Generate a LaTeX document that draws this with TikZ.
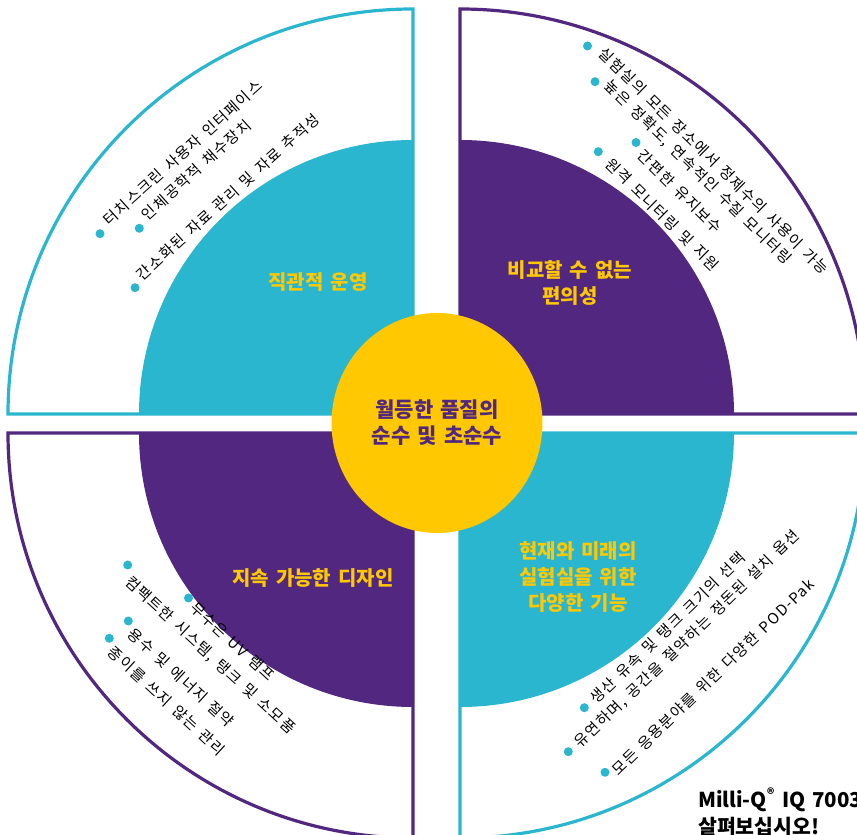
\documentclass[tikz,border=0pt]{standalone}
\usepackage{fontspec}
\usetikzlibrary{shapes.geometric}
\setmainfont{Noto Sans CJK KR}[WordSpace=1.5]
\newfontfamily\itemfont{Noto Sans CJK KR}[WordSpace=1.5,LetterSpace=9]
\definecolor{qcyan}{RGB}{41,182,206}
\definecolor{qpurple}{RGB}{81,39,127}
\definecolor{qyellow}{RGB}{255,200,0}

\begin{document}
\begin{tikzpicture}[x=1pt,y=1pt,
  rim/.style={line width=3.2pt},
  item/.style={anchor=west,inner sep=0pt,font=\itemfont\fontsize{15}{18}\selectfont},
  head/.style={align=center,text=qyellow,font=\fontsize{20}{26}\selectfont\bfseries}]
\useasboundingbox (0,0) rectangle (857,835);
\clip (0,0) rectangle (857,835);
\coordinate (tl) at (413,421);
\coordinate (tr) at (460,421);
\coordinate (bl) at (413,402);
\coordinate (br) at (460,402);

\draw[rim,qcyan] (tl) -- ++(180:405) arc[start angle=180,end angle=90,radius=405] -- cycle;
\draw[rim,qpurple] (tr) -- ++(90:405) arc[start angle=90,end angle=0,radius=405] -- cycle;
\draw[rim,qpurple] (bl) -- ++(270:405) arc[start angle=270,end angle=180,radius=405] -- cycle;
\draw[rim,qcyan] (br) -- ++(0:405) arc[start angle=0,end angle=-90,radius=405] -- cycle;

\fill[qcyan] (tl) -- ++(180:274) arc[start angle=180,end angle=90,radius=274] -- cycle;
\fill[qpurple] (tr) -- ++(90:274) arc[start angle=90,end angle=0,radius=274] -- cycle;
\fill[qpurple] (bl) -- ++(270:274) arc[start angle=270,end angle=180,radius=274] -- cycle;
\fill[qcyan] (br) -- ++(0:274) arc[start angle=0,end angle=-90,radius=274] -- cycle;

\node[ellipse,fill=qyellow,inner sep=0pt,minimum width=211pt,minimum height=220pt,align=center,text=qpurple,
  font=\fontsize{21}{26}\selectfont\bfseries] (core) at (437,412) {월등한 품질의\\순수 및 초순수};

\node[head] (optl) at (318,553) {직관적 운영};
\node[head] (optr) at (570,552) {비교할 수 없는\\편의성};
\node[head] (opbl) at (313,257) {지속 가능한 디자인};
\node[head] (opbr) at (578,258) {현재와 미래의\\실험실을 위한\\다양한 기능};

\foreach \p in {(100,601.3),(139.3,606.7),(135,547.3),(587.5,789),(595,753.3),(636,692.5),(598.3,683.3),
  (188.5,237),(127.7,270),(128.3,214),(109.3,196.7),(584.3,127.3),(568.3,83.3),(605,62.7)}
  \fill[qcyan] \p circle (4.5);

\node[item,rotate=42] (tl1) at (105.6,612.8) {터치스크린 사용자 인터페이스};
\node[item,rotate=42] (tl2) at (143.9,617.8) {인체공학적 채수장치};
\node[item,rotate=42] (tl3) at (138.9,557.8) {간소화된 자료 관리 및 자료 추적성};

\node[item,rotate=-44.5] (tr1) at (601.6,784.5) {실험실의 모든 장소에서 정제수의 사용이 가능};
\node[item,rotate=-44.5] (tr2) at (607,751.7) {높은 정확도, 연속적인 수질 모니터링};
\node[item,rotate=-44.5] (tr3) at (640.5,682.2) {간편한 유지보수};
\node[item,rotate=-44.5] (tr4) at (608.1,673.8) {원격 모니터링 및 지원};

\node[item,rotate=-42.5] (bl1) at (192.8,230) {무수은 UV 램프};
\node[item,rotate=-42.5] (bl2) at (127.2,255.6) {컴팩트한 시스템, 탱크 및 소모품};
\node[item,rotate=-42.5] (bl3) at (130.6,203.9) {용수 및 에너지 절약};
\node[item,rotate=-42.5] (bl4) at (110.6,185.6) {종이를 쓰지 않는 관리};

\node[item,rotate=44] (br1) at (592.4,134.3) {생산 유속 및 탱크 크기의 선택};
\node[item,rotate=44] (br2) at (577.4,89.3) {유연하며, 공간을 절약하는 정돈된 설치 옵션};
\node[item,rotate=44] (br3) at (614.1,62.6) {모든 응용분야를 위한 다양한 POD-Pak};

\node[anchor=base west,inner sep=0pt,font=\fontsize{20.5}{22}\selectfont\bfseries] (more) at (698,27.5) {Milli-Q\textsuperscript{®} IQ 7003};
\node[anchor=base west,inner sep=0pt,font=\fontsize{20.5}{22}\selectfont\bfseries] (look) at (698,0.5) {살펴보십시오!};
\end{tikzpicture}
\end{document}
